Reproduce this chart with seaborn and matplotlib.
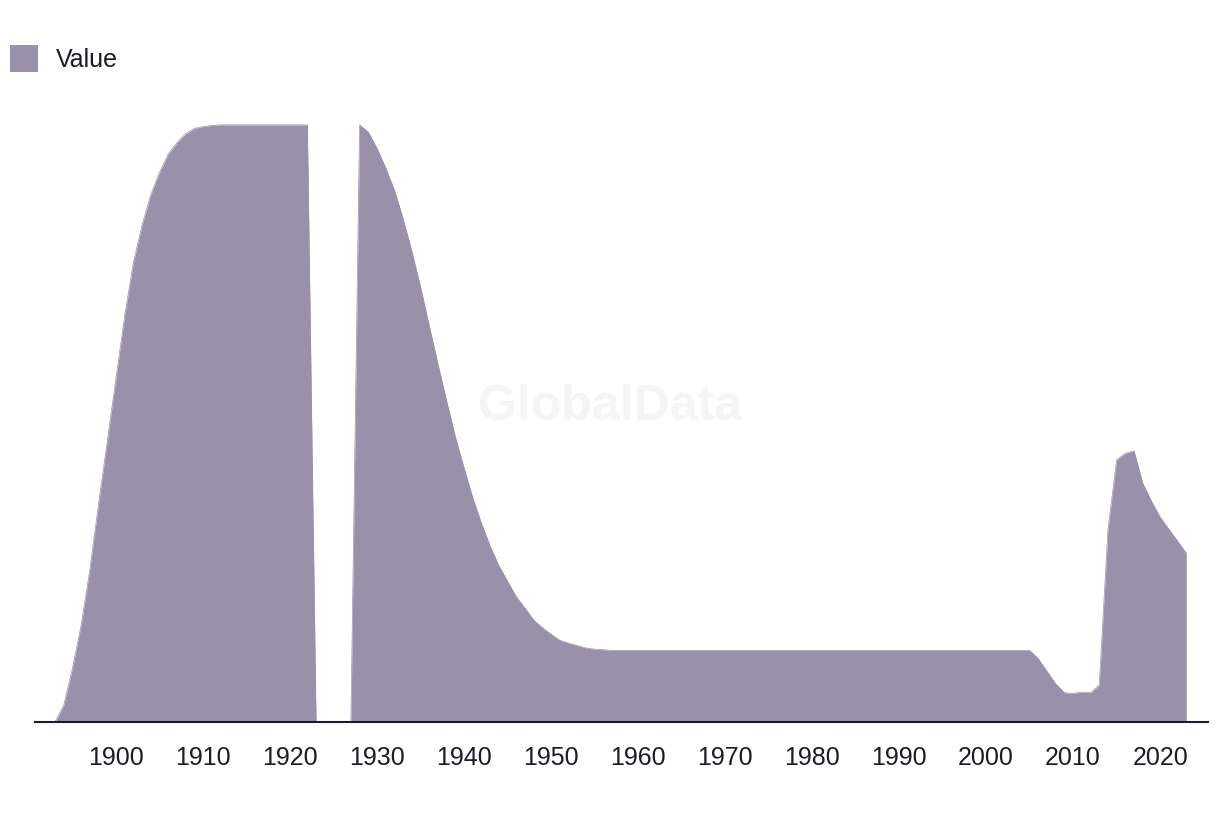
import numpy as np
import pandas as pd
import matplotlib
matplotlib.use("Agg")
import matplotlib.pyplot as plt
import seaborn as sns

# ---- data ----
years = list(range(1893, 2024))
values_1893_1922 = [0, 2.8, 9.0, 16.2, 25.5, 36.5, 47.0, 57.5, 68.0, 76.9,
                    83.2, 88.3, 92.0, 95.1, 97.0, 98.5, 99.4, 99.7, 99.9, 100,
                    100, 100, 100, 100, 100, 100, 100, 100, 100, 100]
values_1923_1927 = [0, 0, 0, 0, 0]
values_1928_1956 = [100, 98.8, 96.1, 92.8, 89.1, 84.3, 78.9, 72.9, 66.4, 60.0,
                    53.8, 47.8, 42.6, 37.6, 33.3, 29.5, 26.2, 23.6, 21.0, 19.1,
                    17.1, 15.8, 14.7, 13.7, 13.2, 12.8, 12.4, 12.2, 12.1]
values_1957_2005 = [12.0] * 49
values_2006_2023 = [10.6, 8.5, 6.4, 4.9, 4.8, 5.0, 4.9, 6.2, 32.2, 43.9,
                    45.0, 45.4, 40.0, 37.0, 34.3, 32.3, 30.3, 28.3]
values = (values_1893_1922 + values_1923_1927 + values_1928_1956
          + values_1957_2005 + values_2006_2023)
tick_years = list(range(1900, 2030, 10))
series_label = "Value"

df = pd.DataFrame({"year": years, "value": values})

# ---- style ----
FILL = "#9991aa"
DARK = "#1c1b2e"
sns.set_theme(style="white")
plt.rcParams["font.family"] = ["Liberation Sans", "DejaVu Sans"]

fig = plt.figure(figsize=(12.2, 8.14), dpi=100)
ax = fig.add_axes([35 / 1220, 1 - 722 / 814, (1208 - 35) / 1220, (722 - 95) / 814])

# watermark
ax.text(0.5, 0.5, "GlobalData", transform=fig.transFigure, ha="center",
        va="center", fontsize=36, fontweight="bold", color="#f5f5f5", zorder=0)

ax.fill_between(df["year"], 0, df["value"], color=FILL, linewidth=0,
                label=series_label, zorder=1)
sns.lineplot(data=df, x="year", y="value", color=FILL, linewidth=0.5, ax=ax,
             zorder=1.5, legend=False)

ax.set_xlim(1890.7, 2025.5)
ax.set_ylim(0, 105.0)
ax.set_xticks(tick_years)
ax.set_xticklabels([str(y) for y in tick_years])
ax.set_yticks([])
ax.set_xlabel("")
ax.set_ylabel("")
ax.tick_params(axis="x", length=0, pad=17, labelsize=18, labelcolor=DARK)
ax.patch.set_alpha(0)

sns.despine(ax=ax, left=True, top=True, right=True)
ax.spines["bottom"].set_color(DARK)
ax.spines["bottom"].set_linewidth(1.5)

handles, labels = ax.get_legend_handles_labels()
fig.legend(handles[:1], labels[:1], loc="upper left",
           bbox_to_anchor=(10 / 1220, 1 - 45 / 814), frameon=False,
           borderpad=0, borderaxespad=0, fontsize=18, labelcolor=DARK,
           handlelength=1.12, handleheight=1.3, handletextpad=0.7)

fig.savefig("out.png", dpi=100)
